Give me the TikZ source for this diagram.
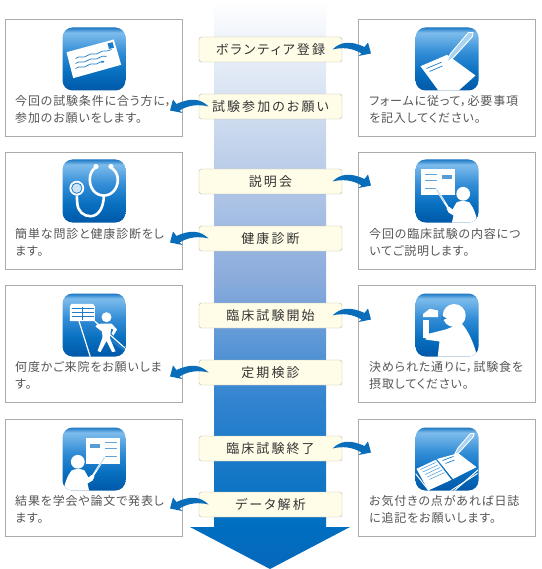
\documentclass[tikz,border=0pt]{standalone}
\usepackage{fontspec}
\usetikzlibrary{positioning}
\newfontfamily\bodyjp[LetterSpace=7,RawFeature=+palt]{Noto Sans CJK JP}
\newfontfamily\labeljp[LetterSpace=16,RawFeature=+palt]{Noto Sans CJK JP}
\definecolor{IconInk}{HTML}{1E7CC8}
\definecolor{IconPale}{HTML}{A9D3F0}
\definecolor{SwooshBlue}{HTML}{0A6DB9}
\definecolor{BoxEdge}{HTML}{ABABAB}
\definecolor{BodyInk}{HTML}{555555}
\definecolor{LabelInk}{HTML}{333333}
\definecolor{LabelFill}{HTML}{FFFDE8}
\definecolor{LabelEdge}{HTML}{B9B5A3}
\pgfdeclareverticalshading{flowblue}{100bp}{color(0bp)=(rgb,255:red,8;green,104;blue,186); color(25bp)=(rgb,255:red,8;green,104;blue,186); color(28.7bp)=(rgb,255:red,0;green,110;blue,192); color(39.9bp)=(rgb,255:red,50;green,132;blue,208); color(50.4bp)=(rgb,255:red,138;green,171;blue,220); color(62.7bp)=(rgb,255:red,197;green,213;blue,236); color(75bp)=(rgb,255:red,255;green,255;blue,255); color(100bp)=(rgb,255:red,255;green,255;blue,255)}
\pgfdeclareverticalshading{iconblue}{100bp}{color(0bp)=(rgb,255:red,0;green,88;blue,168); color(25bp)=(rgb,255:red,0;green,88;blue,168); color(40bp)=(rgb,255:red,8;green,112;blue,192); color(55bp)=(rgb,255:red,50;green,140;blue,214); color(71bp)=(rgb,255:red,125;green,188;blue,236); color(75bp)=(rgb,255:red,30;green,120;blue,196); color(100bp)=(rgb,255:red,30;green,120;blue,196)}
\tikzset{
  stagebox/.style={draw=BoxEdge, fill=white, line width=1pt, minimum width=177pt, minimum height=117pt, inner sep=0pt, outer sep=0pt},
  iconbox/.style={shading=iconblue, rounded corners=10pt, minimum width=63pt, minimum height=63pt, inner sep=0pt, outer sep=0pt},
  stepnote/.style={anchor=north west, align=left, inner sep=0pt, text=BodyInk, font=\bodyjp\fontsize{12}{17}\selectfont},
  steplabel/.style={draw=LabelEdge, fill=LabelFill, rounded corners=2.5pt, minimum width=143pt, minimum height=25pt, inner sep=0pt, outer sep=0pt, text=LabelInk, font=\labeljp\fontsize{13}{15}\selectfont},
  iconclip/.style={rounded corners=10pt},
  swoosh/.pic={
    \fill[SwooshBlue] (-26,0) .. controls (-18,-8) and (-8,-9) .. (6,-2.5) -- (9.5,-7) -- (12.5,4) -- (0,6.5) -- (3,4) .. controls (-6,-1.5) and (-16,-2.5) .. (-26,0) -- cycle;
  },
  mailglyph/.pic={
    \fill[white] (4,24.7) -- (51.3,12) -- (58.7,37.3) -- (10.7,50.7) -- cycle;
    \fill[IconInk] (45,16) -- (50,14.7) -- (51.5,20.2) -- (46.5,21.5) -- cycle;
    \foreach \dy in {0,5,10}
      \draw[IconInk, line width=.7pt] (13,31+\dy) .. controls (18,27+\dy) and (20,32+\dy) .. (25,28+\dy) .. controls (30,24+\dy) and (32,29+\dy) .. (37,25+\dy) .. controls (41,22+\dy) and (44,25+\dy) .. (49-\dy,22+1.3*\dy);
  },
  penglyph/.pic={
    \begin{scope}
      \clip[iconclip] (0,0) rectangle (63,63);
      \fill[white] (5,38.7) -- (31.7,27.3) -- (60,48) -- (41,65) -- (24.3,65) -- cycle;
      \draw[IconInk, line width=.7pt] (11,41) -- (26,34.7) (14,44) -- (27,38.5);
      \draw[white, fill=IconPale, line width=.9pt, line join=round] (57.5,5) -- (53,5) -- (35,26) -- (31,35) -- (38,30) -- (57,9) -- cycle;
    \end{scope}
  },
  stethglyph/.pic={
    \draw[white, line width=2.6pt, line cap=round] (33,8) .. controls (29,11) and (27.3,15) .. (27.3,20) .. controls (27.3,29) and (33,36) .. (41.3,36) .. controls (49.5,36) and (55.3,29) .. (55.3,20) .. controls (55.3,15) and (53,11) .. (48.5,8);
    \draw[white, line width=2.6pt] (14.3,36) -- (14.8,44) .. controls (15.5,52) and (21,56.7) .. (28,56.7) .. controls (36,56.7) and (41.3,48) .. (41.3,36);
    \fill[white] (33.5,7) circle (2.6) (48.5,7) circle (2.6);
    \fill[white] (14.3,28.7) circle (7.4);
    \fill[IconInk] (14.3,28.7) circle (5.6);
    \fill[IconPale!60!white] (14.3,28.7) circle (4.6);
  },
  presenterglyph/.pic={
    \begin{scope}
      \clip[iconclip] (0,0) rectangle (63,63);
      \fill[white] (5.3,10) rectangle (39.3,36);
      \draw[IconInk!70!white, line width=.7pt] (9,15) -- (21,15) (9,21) -- (21,21) (9,29) -- (21,29);
      \fill[IconInk!75!white] (26,16) rectangle (36,20);
      \draw[white, line width=2pt] (20.5,29) -- (33,49);
      \draw[IconPale, line width=.8pt] (21,30) -- (29,42.5);
      \fill[white] (47.7,34.3) circle (6.9);
      \fill[white] (36,65) -- (38,56) -- (33,53) -- (31,49) -- (34,47.5) -- (37,50) -- (41,43) .. controls (44,41) and (50,41) .. (54,43) .. controls (58,48) and (61,56) .. (62.5,65) -- cycle;
    \end{scope}
  },
  visitglyph/.pic={
    \begin{scope}
      \clip[iconclip] (0,0) rectangle (63,63);
      \draw[white, line width=1.2pt] (16.3,27) -- (28,64) (32.3,27.7) -- (64,56);
      \fill[white] (9,10.3) -- (30.5,10.3) -- (32.3,13) -- (32.3,27.7) -- (7.3,27.7) -- (7.3,13) -- cycle;
      \draw[IconInk, line width=.9pt] (9,15) -- (31,15) (9,19) -- (31,19) (9,23) -- (31,23) (19.8,13) -- (19.8,26);
      \fill[white] (44,23.7) circle (5);
      \draw[IconInk, line width=2.4pt] (33,35) -- (63,57);
      \fill[white] (39,30) -- (49,30) -- (54.5,36) -- (51,42) -- (49,40) -- (51,36) -- (48.5,35) -- (47.5,45) -- (53,58) -- (49.5,58.5) -- (44,47.5) -- (38,58.5) -- (35,57.5) -- (40,44) -- (39.5,38) -- (33,33) -- (34.5,31) -- cycle;
    \end{scope}
  },
  mealglyph/.pic={
    \begin{scope}
      \clip[iconclip] (0,0) rectangle (63,63);
      \fill[white] (7.7,20.3) -- (14.3,15.3) -- (22.7,17) -- (22.7,23.7) -- (7.7,23.7) -- cycle;
      \fill[white] (7.7,26) rectangle (13.5,44);
      \fill[white] (38.7,22) circle (11.5);
      \fill[white] (22,65) -- (24,48) -- (10,46) -- (10,41) -- (30,36) -- (46,30) .. controls (52,36) and (59,50) .. (62,65) -- cycle;
      \fill[IconInk] (26,22) -- (31,25) -- (26,27) -- cycle;
    \end{scope}
  },
  diaryglyph/.pic={
    \begin{scope}
      \clip[iconclip] (0,0) rectangle (63,63);
      \fill[white] (1,41.3) -- (20.3,32.3) -- (36,52.3) -- (12.7,63) -- cycle;
      \fill[white] (21.5,31.5) -- (42.7,25.7) -- (61,39.7) -- (37.5,51.5) -- cycle;
      \foreach \dy in {0,2.5,5,7.5,10}
        \draw[IconInk!70!white, line width=.6pt] (5+.9*\dy,42+\dy) -- (20+.9*\dy,35+\dy);
      \draw[IconInk, line width=.7pt] (27,33) -- (38,29) (30,36) -- (39,32.5);
      \draw[white, line width=1pt] (0,46) -- (14,64) (38,64) -- (63,42);
      \draw[white, line width=1pt] (34,64) -- (62,46);
      \draw[white, fill=IconPale, line width=.9pt, line join=round] (58.5,6) -- (55,6) -- (42,21) -- (38.5,28) -- (44,24.5) -- (58,9) -- cycle;
    \end{scope}
  },
}
\begin{document}
\begin{tikzpicture}[x=1pt, y=-1pt]
  \useasboundingbox (0,0) rectangle (541,569);
  % the long arrow behind everything
  \shade[shading=flowblue] (214,0) -- (326,0) -- (326,527) -- (350,527) -- (270,569) -- (190,527) -- (214,527) -- cycle;

  \node[stagebox, anchor=north west] (mailbox) at (5.5,19.5) {};
  \node[stagebox, below=16pt of mailbox] (stethbox) {};
  \node[stagebox, below=16pt of stethbox] (visitbox) {};
  \node[stagebox, below=17pt of visitbox] (reportbox) {};
  \node[stagebox, anchor=north west] (formbox) at (358.5,19.5) {};
  \node[stagebox, below=16pt of formbox] (talkbox) {};
  \node[stagebox, below=16pt of talkbox] (mealbox) {};
  \node[stagebox, below=17pt of mealbox] (diarybox) {};

  \node[iconbox, below=8pt of mailbox.north] (mailicon) {};
  \node[iconbox, below=7pt of stethbox.north] (stethicon) {};
  \node[iconbox, below=8pt of visitbox.north] (visiticon) {};
  \node[iconbox, below=8pt of reportbox.north] (reporticon) {};
  \node[iconbox, below=8pt of formbox.north] (formicon) {};
  \node[iconbox, below=7pt of talkbox.north] (talkicon) {};
  \node[iconbox, below=8pt of mealbox.north] (mealicon) {};
  \node[iconbox, below=8pt of diarybox.north] (diaryicon) {};

  \pic at (mailicon.north west) {mailglyph};
  \pic at (stethicon.north west) {stethglyph};
  \pic at (visiticon.north west) {visitglyph};
  \pic[xscale=-1] at (reporticon.north east) {presenterglyph};
  \pic at (formicon.north west) {penglyph};
  \pic at (talkicon.north west) {presenterglyph};
  \pic at (mealicon.north west) {mealglyph};
  \pic at (diaryicon.north west) {diaryglyph};

  \node[stepnote] (mailtext) at (15,95) {今回の試験条件に合う方に，\\参加のお願いをします。};
  \node[stepnote] (stethtext) at (15,228) {簡単な問診と健康診断をし\\ます。};
  \node[stepnote] (visittext) at (15,361) {何度かご来院をお願いしま\\す。};
  \node[stepnote] (reporttext) at (15,495) {結果を学会や論文で発表し\\ます。};
  \node[stepnote] (formtext) at (369,95) {フォームに従って，必要事項\\を記入してください。};
  \node[stepnote] (talktext) at (369,228) {今回の臨床試験の内容につ\\いてご説明します。};
  \node[stepnote] (mealtext) at (369,361) {決められた通りに，試験食を\\摂取してください。};
  \node[stepnote] (diarytext) at (369,495) {お気付きの点があれば日誌\\に追記をお願いします。};

  \node[steplabel] (volunteer) at (270.5,49.5) {ボランティア登録};
  \node[steplabel, below=32pt of volunteer] (request) {試験参加のお願い};
  \node[steplabel, below=50pt of request] (briefing) {説明会};
  \node[steplabel, below=32pt of briefing] (checkup) {健康診断};
  \node[steplabel, below=52pt of checkup] (trialstart) {臨床試験開始};
  \node[steplabel, below=32pt of trialstart] (regular) {定期検診};
  \node[steplabel, below=51pt of regular] (trialend) {臨床試験終了};
  \node[steplabel, below=31pt of trialend] (analysis) {データ解析};

  \foreach \lab/\bx in {volunteer/formbox, briefing/talkbox, trialstart/mealbox, trialend/diarybox}
    \pic at (\lab.east -| \bx.west) {swoosh};
  \foreach \lab/\bx in {request/mailbox, checkup/stethbox, regular/visitbox, analysis/reportbox}
    \pic[xscale=-1] at (\lab.west -| \bx.east) {swoosh};
\end{tikzpicture}
\end{document}
